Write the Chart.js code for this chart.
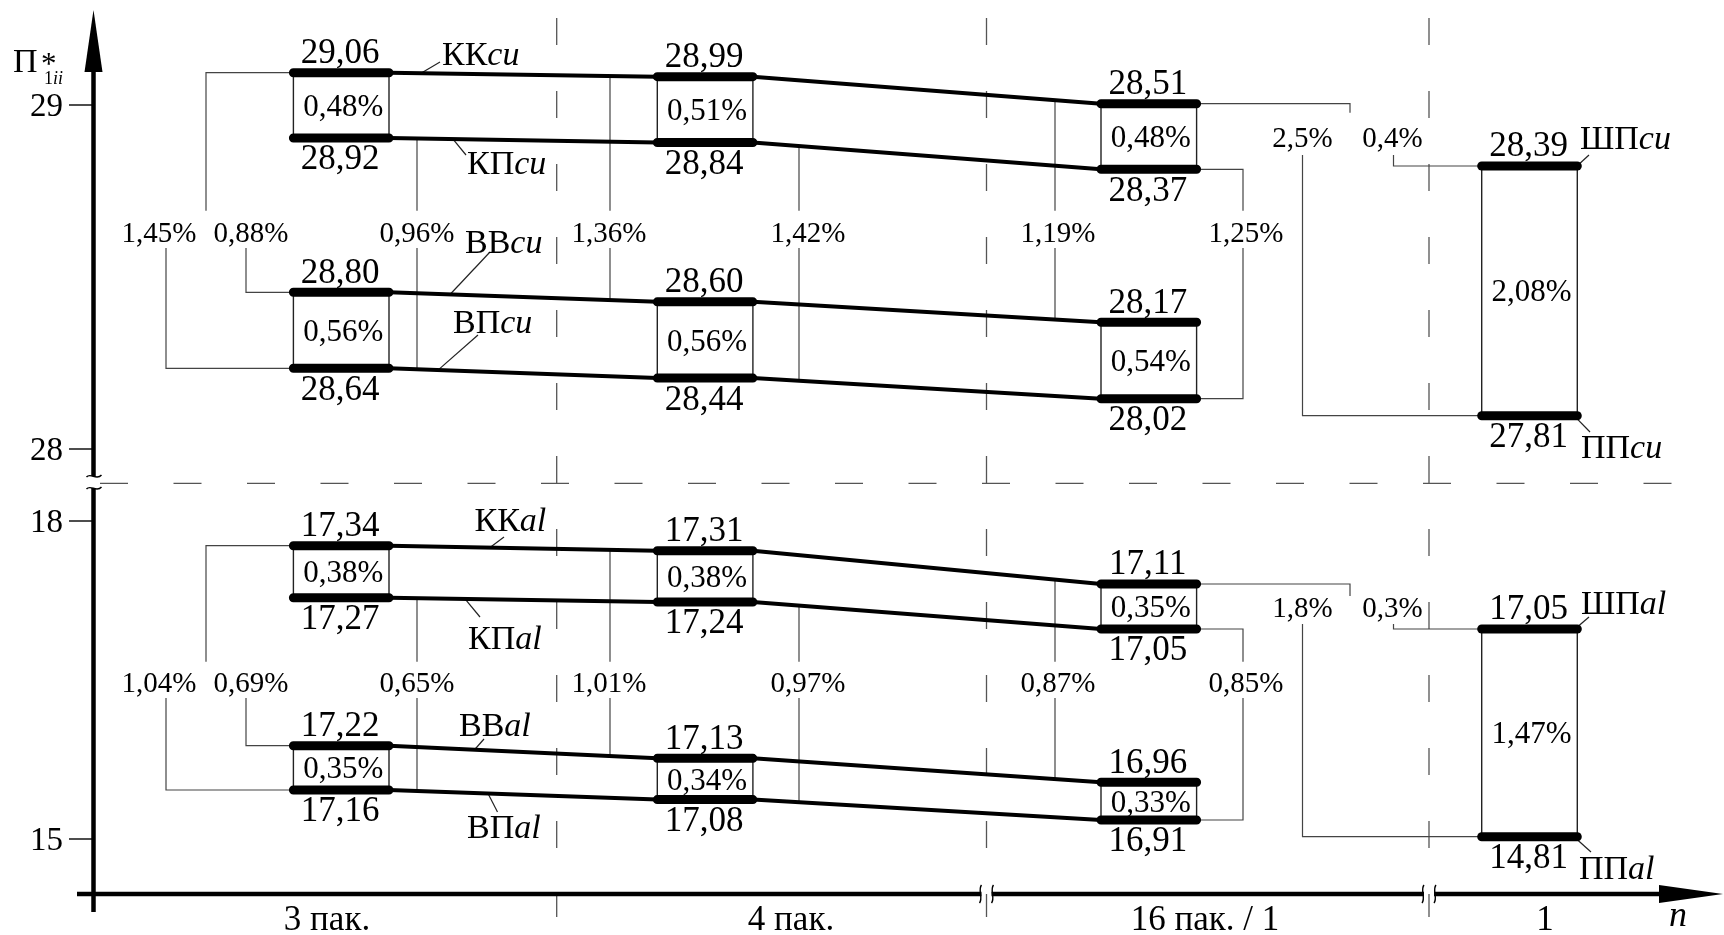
<!DOCTYPE html>
<html><head><meta charset="utf-8">
<script src="https://cdn.jsdelivr.net/npm/chart.js@4"></script>
<style>html,body{margin:0;padding:0;background:#fff;}canvas{display:block}</style>
</head><body>
<canvas id="c" width="1724" height="935"></canvas>
<script>
// ---------------- data (values as printed on the figure) ----------------
const categories = ['3 пак.', '4 пак.', '16 пак. / 1', '1'];
const kkCu = [29.06, 28.99, 28.51];
const kpCu = [28.92, 28.84, 28.37];
const vvCu = [28.80, 28.60, 28.17];
const vpCu = [28.64, 28.44, 28.02];
const shpCu = [28.39];
const ppCu = [27.81];
const kkAl = [17.34, 17.31, 17.11];
const kpAl = [17.27, 17.24, 17.05];
const vvAl = [17.22, 17.13, 16.96];
const vpAl = [17.16, 17.08, 16.91];
const shpAl = [17.05];
const ppAl = [14.81];
// percentages inside boxes
const boxKCu = [0.48, 0.51, 0.48];
const boxVCu = [0.56, 0.56, 0.54];
const boxShCu = [2.08];
const boxKAl = [0.38, 0.38, 0.35];
const boxVAl = [0.35, 0.34, 0.33];
const boxShAl = [1.47];
// percentages between pairs
const kkVpCu = [1.45];
const kkVvCu = [0.88, 1.36, 1.19];
const kpVpCu = [0.96, 1.42, 1.25];
const kkPpCu = [2.5];
const kkShCu = [0.4];
const kkVpAl = [1.04];
const kkVvAl = [0.69, 1.01, 0.87];
const kpVpAl = [0.65, 0.97, 0.85];
const kkPpAl = [1.8];
const kkShAl = [0.3];
// axis tick labels
const cuTicks = [29, 28];
const alTicks = [18, 15];
const axisTitle = 'П';
const xAxisName = 'n';

// ---------------- series description ----------------
const lanes = [
  {id:'kkCu', code:'КК', mat:'cu', values:kkCu, cats:[0,1,2], pos:'above'},
  {id:'kpCu', code:'КП', mat:'cu', values:kpCu, cats:[0,1,2], pos:'below'},
  {id:'vvCu', code:'ВВ', mat:'cu', values:vvCu, cats:[0,1,2], pos:'above'},
  {id:'vpCu', code:'ВП', mat:'cu', values:vpCu, cats:[0,1,2], pos:'below'},
  {id:'shpCu', code:'ШП', mat:'cu', values:shpCu, cats:[3], pos:'above'},
  {id:'ppCu', code:'ПП', mat:'cu', values:ppCu, cats:[3], pos:'below'},
  {id:'kkAl', code:'КК', mat:'al', values:kkAl, cats:[0,1,2], pos:'above'},
  {id:'kpAl', code:'КП', mat:'al', values:kpAl, cats:[0,1,2], pos:'below'},
  {id:'vvAl', code:'ВВ', mat:'al', values:vvAl, cats:[0,1,2], pos:'above'},
  {id:'vpAl', code:'ВП', mat:'al', values:vpAl, cats:[0,1,2], pos:'below'},
  {id:'shpAl', code:'ШП', mat:'al', values:shpAl, cats:[3], pos:'above'},
  {id:'ppAl', code:'ПП', mat:'al', values:ppAl, cats:[3], pos:'below'}
];
const laneById = {}; lanes.forEach(l => laneById[l.id] = l);
const pctSets = {
  Cu: {kkVp:kkVpCu, kkVv:kkVvCu, kpVp:kpVpCu, kkPp:kkPpCu, kkSh:kkShCu, boxK:boxKCu, boxV:boxVCu, boxSh:boxShCu},
  Al: {kkVp:kkVpAl, kkVv:kkVvAl, kpVp:kpVpAl, kkPp:kkPpAl, kkSh:kkShAl, boxK:boxKAl, boxV:boxVAl, boxSh:boxShAl}
};

// ---------------- layout (positions / sizes, no data) ----------------
const W = 1724, H = 935;
const L = {
  catX: [341.2, 705.1, 1148.8, 1529.5],
  halfW: 47.8,
  band: { kkCu:[72.7,103.7], kpCu:[138,169.3], vvCu:[292.3,322.3], vpCu:[368.3,398.7], shpCu:[166], ppCu:[415.7],
          kkAl:[545.7,584], kpAl:[597.7,629], vvAl:[745.7,782.3], vpAl:[790,820], shpAl:[629], ppAl:[836.7] },
  tickPx: { Cu:[105, 449], Al:[521, 839] },
  yAxisX: 93.5, xAxisY: 894,
  dashX: [556.7, 986.5, 1429],
  catLabelX: [327, 791, 1205, 1545],
  brk: { Cu:{gapTop:210.7, gapBot:248, labY:232, dLabY:137, dStart:155, tick:9},
         Al:{gapTop:661.7, gapBot:698, labY:682, dLabY:606.7, dStart:624, tick:12} },
  fork: {top:206, legVp:166, legVv:246, labVp:159, labVv:251},
  cross: [ {set:'kpVp', a:'kp', b:'vp', cat:0, x:417, lx:417},
           {set:'kkVv', a:'kk', b:'vv', cat:1, x:610, lx:609},
           {set:'kpVp', a:'kp', b:'vp', cat:1, x:799, lx:808},
           {set:'kkVv', a:'kk', b:'vv', cat:2, x:1055, lx:1058} ],
  right: {x:1243, lx:1246},
  toLast: {x:1350, ppX:1302.5, shX:1393.5},
  laneLabel: {
    kkCu:{tx:442, ty:54, lx:421, ex:440, ey:62},
    kpCu:{tx:467, ty:163, lx:453, ex:466, ey:155},
    vvCu:{tx:465, ty:242, lx:450, ex:490, ey:252},
    vpCu:{tx:453, ty:322, lx:438, ex:478, ey:335},
    shpCu:{tx:1580, ty:138, lx:1577, ex:1589, ey:155},
    ppCu:{tx:1581, ty:447, lx:1574, ex:1590, ey:432},
    kkAl:{tx:474.5, ty:520, lx:490, ex:504, ey:537},
    kpAl:{tx:468, ty:638, lx:465, ex:480, ey:617},
    vvAl:{tx:459, ty:725, lx:474.5, ex:484, ey:739},
    vpAl:{tx:467, ty:827, lx:488, ex:497.5, ey:812},
    shpAl:{tx:1581, ty:603, lx:1575, ex:1589, ey:617},
    ppAl:{tx:1579, ty:868, lx:1574, ex:1591, ey:852}
  }
};
const FONT = '"Liberation Serif", "Times New Roman", serif';

// each series gets its own hidden linear axis placed in its band of the schematic
function laneRange(values, band) {
  const vTop = Math.max(...values), vBot = Math.min(...values);
  const s = values.length > 1 ? (band[1] - band[0]) / (vTop - vBot) : 100;
  const max = vTop + band[0] / s;
  return {min: max - H / s, max};
}
function tickRange(ticks, px) {
  const s = (px[1] - px[0]) / (ticks[0] - ticks[1]);
  const max = ticks[0] + px[0] / s;
  return {min: max - H / s, max};
}

const scales = { x: {type:'linear', min:0, max:W, display:false} };
lanes.forEach(l => {
  const r = laneRange(l.values, L.band[l.id]);
  scales['y_' + l.id] = {type:'linear', axis:'y', position:'left', display:false, bounds:'data', min:r.min, max:r.max};
});
const rc = tickRange(cuTicks, L.tickPx.Cu), ra = tickRange(alTicks, L.tickPx.Al);
scales.yCu = {type:'linear', axis:'y', position:'left', display:false, bounds:'data', min:rc.min, max:rc.max};
scales.yAl = {type:'linear', axis:'y', position:'left', display:false, bounds:'data', min:ra.min, max:ra.max};

const datasets = [];
lanes.forEach(l => {
  const bars = [], conn = [];
  l.values.forEach((v, i) => {
    const cx = L.catX[l.cats[i]];
    bars.push({x: cx - L.halfW, y: v}, {x: cx + L.halfW, y: v}, {x: cx + L.halfW + 1, y: null});
    conn.push({x: cx - L.halfW, y: v}, {x: cx + L.halfW, y: v});
  });
  datasets.push({label: l.code + l.mat, data: bars, yAxisID: 'y_' + l.id, borderColor: '#000', borderWidth: 9,
    borderCapStyle: 'round', pointRadius: 0, spanGaps: false, tension: 0, order: 0, fill: false});
  if (l.values.length > 1) {
    datasets.push({label: l.code + l.mat + ' line', data: conn, yAxisID: 'y_' + l.id, borderColor: '#000', borderWidth: 4,
      borderCapStyle: 'butt', pointRadius: 0, tension: 0, order: 1, fill: false});
  }
});

// ---------------- drawing helpers ----------------
function pts(chart, id) {
  const l = laneById[id], xs = chart.scales.x, ys = chart.scales['y_' + id];
  return l.values.map((v, i) => {
    const cx = L.catX[l.cats[i]];
    return {xl: xs.getPixelForValue(cx - L.halfW), xr: xs.getPixelForValue(cx + L.halfW),
            xc: xs.getPixelForValue(cx), y: ys.getPixelForValue(v), v};
  });
}
function lineY(chart, id, X) {
  const poly = [];
  pts(chart, id).forEach(q => { poly.push([q.xl, q.y], [q.xr, q.y]); });
  if (X <= poly[0][0]) return poly[0][1];
  for (let i = 0; i < poly.length - 1; i++) {
    const [x1, y1] = poly[i], [x2, y2] = poly[i + 1];
    if (X >= x1 && X <= x2) return y1 + (y2 - y1) * (X - x1) / ((x2 - x1) || 1);
  }
  return poly[poly.length - 1][1];
}
function seg(ctx, x1, y1, x2, y2) { ctx.beginPath(); ctx.moveTo(x1, y1); ctx.lineTo(x2, y2); ctx.stroke(); }
function poly(ctx, p) { ctx.beginPath(); ctx.moveTo(p[0][0], p[0][1]); for (let i = 1; i < p.length; i++) ctx.lineTo(p[i][0], p[i][1]); ctx.stroke(); }
function txt(ctx, s, x, cy, size, align, italic) {
  ctx.font = (italic ? 'italic ' : '') + size + 'px ' + FONT;
  ctx.textAlign = align || 'center';
  ctx.textBaseline = 'alphabetic';
  ctx.fillStyle = '#000';
  ctx.fillText(s, x, cy + 0.34 * size);
}
function fmtVal(v) { return v.toFixed(2).replace('.', ','); }
function fmtPct(v, dec) { return v.toFixed(dec).replace('.', ',') + '%'; }

const decor = {
  id: 'decor',
  beforeDatasetsDraw(chart) {
    const ctx = chart.ctx, xs = chart.scales.x;
    ctx.save();
    // dashed separators
    ctx.strokeStyle = '#555'; ctx.lineWidth = 1.3; ctx.setLineDash([27, 46]); ctx.lineDashOffset = 0;
    L.dashX.forEach(x => seg(ctx, xs.getPixelForValue(x), 18, xs.getPixelForValue(x), 917));
    ctx.setLineDash([28, 45.5]);
    seg(ctx, 100, 483.3, 1680, 483.3);
    ctx.setLineDash([]);
    // axes
    const ax = L.yAxisX, ay = L.xAxisY;
    ctx.strokeStyle = '#000'; ctx.fillStyle = '#000'; ctx.lineWidth = 4.5; ctx.lineCap = 'butt';
    seg(ctx, ax, 60, ax, 476); seg(ctx, ax, 488, ax, 912);
    ctx.beginPath(); ctx.moveTo(ax, 10); ctx.lineTo(ax - 9, 72); ctx.lineTo(ax + 9, 72); ctx.closePath(); ctx.fill();
    seg(ctx, 77, ay, 981.5, ay); seg(ctx, 991.5, ay, 1424, ay); seg(ctx, 1434, ay, 1662, ay);
    ctx.beginPath(); ctx.moveTo(1723, ay); ctx.lineTo(1659, ay - 9); ctx.lineTo(1659, ay + 9); ctx.closePath(); ctx.fill();
    // break marks
    ctx.lineWidth = 1.4;
    [476, 488].forEach(y => { ctx.beginPath(); ctx.moveTo(ax - 7, y + 1); ctx.bezierCurveTo(ax - 3, y - 4, ax + 3, y + 5, ax + 8, y - 1); ctx.stroke(); });
    [[980.5, 992.5], [1423, 1435]].forEach(pr => pr.forEach(x => {
      ctx.beginPath(); ctx.moveTo(x + 1, ay - 9); ctx.bezierCurveTo(x - 3, ay - 4, x + 3, ay + 4, x - 1, ay + 9); ctx.stroke();
    }));
    // ticks
    ctx.lineWidth = 1.4;
    cuTicks.forEach(t => { const y = chart.scales.yCu.getPixelForValue(t); seg(ctx, 69, y, ax, y); });
    alTicks.forEach(t => { const y = chart.scales.yAl.getPixelForValue(t); seg(ctx, 69, y, ax, y); });

    ['Cu', 'Al'].forEach(S => {
      const kk = pts(chart, 'kk' + S), kp = pts(chart, 'kp' + S), vv = pts(chart, 'vv' + S), vp = pts(chart, 'vp' + S);
      const sh = pts(chart, 'shp' + S), pp = pts(chart, 'pp' + S);
      const B = L.brk[S];
      // box sides
      ctx.strokeStyle = '#222'; ctx.lineWidth = 1.4;
      [[kk, kp], [vv, vp], [sh, pp]].forEach(([a, b]) => a.forEach((q, i) => {
        seg(ctx, q.xl, q.y, b[i].xl, b[i].y); seg(ctx, q.xr, q.y, b[i].xr, b[i].y);
      }));
      // brackets
      ctx.strokeStyle = '#444'; ctx.lineWidth = 1.2;
      const F = L.fork;
      poly(ctx, [[kk[0].xl, kk[0].y], [F.top, kk[0].y], [F.top, B.gapTop]]);
      poly(ctx, [[F.legVp, B.gapBot], [F.legVp, vp[0].y], [vp[0].xl, vp[0].y]]);
      poly(ctx, [[F.legVv, B.gapBot], [F.legVv, vv[0].y], [vv[0].xl, vv[0].y]]);
      L.cross.forEach(c => {
        const X = xs.getPixelForValue(c.x);
        seg(ctx, X, lineY(chart, c.a + S, X), X, B.gapTop);
        seg(ctx, X, B.gapBot, X, lineY(chart, c.b + S, X));
      });
      const R = xs.getPixelForValue(L.right.x);
      poly(ctx, [[kp[2].xr, kp[2].y], [R, kp[2].y], [R, B.gapTop]]);
      poly(ctx, [[R, B.gapBot], [R, vp[2].y], [vp[2].xr, vp[2].y]]);
      const T = L.toLast;
      poly(ctx, [[kk[2].xr, kk[2].y], [T.x, kk[2].y], [T.x, kk[2].y + B.tick]]);
      poly(ctx, [[T.ppX, B.dStart], [T.ppX, pp[0].y], [pp[0].xl, pp[0].y]]);
      poly(ctx, [[T.shX, B.dStart], [T.shX, sh[0].y], [sh[0].xl, sh[0].y]]);
    });
    // leaders of series names
    ctx.strokeStyle = '#222'; ctx.lineWidth = 1.2;
    lanes.forEach(l => {
      const p = L.laneLabel[l.id];
      seg(ctx, p.lx, lineY(chart, l.id, p.lx), p.ex, p.ey);
    });
    ctx.restore();
  },
  afterDatasetsDraw(chart) {
    const ctx = chart.ctx, xs = chart.scales.x;
    ctx.save();
    // tick labels
    cuTicks.forEach(t => txt(ctx, String(t), 63, chart.scales.yCu.getPixelForValue(t), 33, 'right'));
    alTicks.forEach(t => txt(ctx, String(t), 63, chart.scales.yAl.getPixelForValue(t), 33, 'right'));
    // axis title П*1ii
    ctx.fillStyle = '#000'; ctx.textBaseline = 'alphabetic'; ctx.textAlign = 'left';
    ctx.font = '34px ' + FONT; ctx.fillText(axisTitle, 13, 72);
    ctx.font = '31px ' + FONT; ctx.fillText('*', 41, 74);
    ctx.font = '18px ' + FONT; ctx.fillText('1', 44, 84);
    const w1 = ctx.measureText('1').width;
    ctx.font = 'italic 18px ' + FONT; ctx.fillText('ii', 44 + w1, 84);
    // category labels
    ctx.font = '35px ' + FONT; ctx.textAlign = 'center';
    categories.forEach((c, i) => ctx.fillText(c, xs.getPixelForValue(L.catLabelX[i]), 930));
    ctx.font = 'italic 36px ' + FONT; ctx.textAlign = 'left'; ctx.fillText(xAxisName, 1669, 926);

    // value labels
    lanes.forEach(l => {
      pts(chart, l.id).forEach(q => {
        const cy = l.pos === 'above' ? q.y - 21.5 : q.y + 19.5;
        txt(ctx, fmtVal(q.v), q.xc - 1, cy, 35);
      });
      // series names
      const p = L.laneLabel[l.id], fs = 34, b = p.ty + 0.33 * fs;
      ctx.fillStyle = '#000'; ctx.textAlign = 'left';
      ctx.font = fs + 'px ' + FONT; ctx.fillText(l.code, p.tx, b);
      const w = ctx.measureText(l.code).width;
      ctx.font = 'italic ' + fs + 'px ' + FONT; ctx.fillText(l.mat, p.tx + w, b);
    });
    ['Cu', 'Al'].forEach(S => {
      const P = pctSets[S], B = L.brk[S];
      const kk = pts(chart, 'kk' + S), kp = pts(chart, 'kp' + S), vv = pts(chart, 'vv' + S), vp = pts(chart, 'vp' + S);
      const sh = pts(chart, 'shp' + S), pp = pts(chart, 'pp' + S);
      kk.forEach((q, i) => txt(ctx, fmtPct(P.boxK[i], 2), q.xc + 2, (q.y + kp[i].y) / 2, 31));
      vv.forEach((q, i) => txt(ctx, fmtPct(P.boxV[i], 2), q.xc + 2, (q.y + vp[i].y) / 2, 31));
      txt(ctx, fmtPct(P.boxSh[0], 2), sh[0].xc + 2, (sh[0].y + pp[0].y) / 2, 31);
      txt(ctx, fmtPct(P.kkVp[0], 2), L.fork.labVp, B.labY, 29);
      txt(ctx, fmtPct(P.kkVv[0], 2), L.fork.labVv, B.labY, 29);
      L.cross.forEach(c => txt(ctx, fmtPct(P[c.set][c.cat], 2), xs.getPixelForValue(c.lx), B.labY, 29));
      txt(ctx, fmtPct(P.kpVp[2], 2), xs.getPixelForValue(L.right.lx), B.labY, 29);
      txt(ctx, fmtPct(P.kkPp[0], 1), L.toLast.ppX, B.dLabY, 29);
      txt(ctx, fmtPct(P.kkSh[0], 1), L.toLast.shX - 1, B.dLabY, 29);
    });
    ctx.restore();
  }
};

new Chart(document.getElementById('c'), {
  type: 'line',
  data: { datasets },
  options: {
    responsive: false, animation: false, devicePixelRatio: 1, events: [],
    layout: { padding: 0 },
    plugins: { legend: { display: false }, tooltip: { enabled: false }, title: { display: false } },
    scales
  },
  plugins: [decor]
});
</script>
</body></html>
